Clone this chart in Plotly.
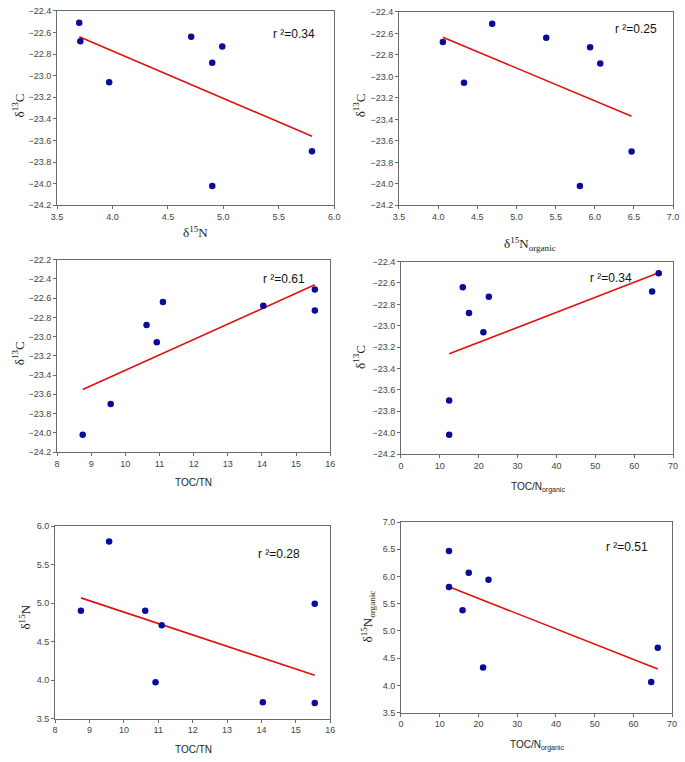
import numpy as np
import plotly.graph_objects as go

# ---- data (8 samples) ----
d13C = [-22.51, -22.68, -23.06, -22.64, -22.73, -22.88, -24.02, -23.70]
d15N = [3.70, 3.71, 3.97, 4.71, 4.99, 4.90, 4.90, 5.80]
d15N_org = [4.69, 4.06, 4.33, 5.38, 5.94, 6.07, 5.81, 6.47]
toc_tn = [15.55, 14.04, 10.92, 11.10, 15.55, 10.62, 8.75, 9.57]
toc_norg = [66.3, 64.6, 21.2, 15.9, 22.6, 17.5, 12.4, 12.4]
r2_labels = ["r \u00b2=0.34", "r \u00b2=0.25", "r \u00b2=0.61", "r \u00b2=0.34", "r \u00b2=0.28", "r \u00b2=0.51"]

W, H = 685, 762

dC = "\u03b4<sup>13</sup>C"
dN = "\u03b4<sup>15</sup>N"
dNo = "\u03b4<sup>15</sup>N<sub>organic</sub>"
panels = [
    (d15N, d13C, [3.5, 6.0], 0.5, ".1f", [-24.2, -22.4], 0.2, [52, 334, 6, 203],
     dN, (193, 230), dC, (12, 102), (0.855, 0.883), True),
    (d15N_org, d13C, [3.5, 7.0], 0.5, ".1f", [-24.2, -22.4], 0.2, [400, 679, 7, 203],
     dNo, (533, 242), dC, (359, 102), (0.864, 0.913), True),
    (toc_tn, d13C, [8, 16], 1, "d", [-24.2, -22.2], 0.2, [52, 330, 258, 453],
     "TOC/TN", (191, 484), dC, (13, 353), (0.831, 0.90), False),
    (toc_norg, d13C, [0, 70], 10, "d", [-24.2, -22.4], 0.2, [402, 679, 260, 455],
     "TOC/N<sub>organic</sub>", (541, 489), dC, (360, 357), (0.773, 0.913), False),
    (toc_tn, d15N, [8, 16], 1, "d", [3.5, 6.0], 0.5, [50, 330, 528, 723],
     "TOC/TN", (191, 754), dN, (19, 620), (0.814, 0.856), False),
    (toc_norg, d15N_org, [0, 70], 10, "d", [3.5, 7.0], 0.5, [402, 678, 524, 717],
     "TOC/N<sub>organic</sub>", (540, 750), dNo, (368, 620), (0.833, 0.87), False),
]

fig = go.Figure()
annotations = []
axcolor = "#6b6b6b"
tickfont = dict(family="Liberation Sans, Arial", size=9, color="#444")
serif = "Liberation Serif, Times New Roman"
sans = "Liberation Sans, Arial"

for i, (xs, ys, xr, xd, xf, yr, yd, box, xt, xtp, yt, ytp, r2p, xserif) in enumerate(panels):
    n = i + 1
    xa = "x" if n == 1 else f"x{n}"
    ya = "y" if n == 1 else f"y{n}"
    l, r, t, b = box
    xs_a = np.array(xs)
    ys_a = np.array(ys)
    slope, icpt = np.polyfit(xs_a, ys_a, 1)
    lx = np.array([xs_a.min(), xs_a.max()])
    fig.add_trace(go.Scatter(x=lx, y=slope * lx + icpt, mode="lines",
                             line=dict(color="#e01010", width=1.6),
                             xaxis=xa, yaxis=ya, showlegend=False, hoverinfo="skip"))
    fig.add_trace(go.Scatter(x=xs, y=ys, mode="markers",
                             marker=dict(color="#0a0a9c", size=6.5),
                             xaxis=xa, yaxis=ya, showlegend=False))
    common = dict(showline=True, mirror=True, linecolor=axcolor, linewidth=1,
                  ticks="outside", ticklen=3, tickcolor=axcolor, tickwidth=1,
                  showgrid=False, zeroline=False, tickfont=tickfont, fixedrange=True)
    xkey = "xaxis" if n == 1 else f"xaxis{n}"
    ykey = "yaxis" if n == 1 else f"yaxis{n}"
    fig.update_layout({
        xkey: dict(domain=[l / W, r / W], range=xr, dtick=xd, tick0=xr[0],
                   tickformat=xf if xf != "d" else None, anchor=ya, **common),
        ykey: dict(domain=[1 - b / H, 1 - t / H], range=yr, dtick=yd, tick0=yr[0],
                   tickformat=".1f", anchor=xa, **common),
    })
    annotations.append(dict(text=r2_labels[i], xref=f"{xa} domain", yref=f"{ya} domain",
                            x=r2p[0], y=r2p[1], showarrow=False,
                            font=dict(family=sans, size=12, color="#111"),
                            xanchor="center", yanchor="middle"))
    annotations.append(dict(text=xt, xref="paper", yref="paper",
                            x=xtp[0] / W, y=1 - xtp[1] / H, showarrow=False,
                            font=dict(family=serif if xserif else sans,
                                      size=13 if xserif else 10, color="#222"),
                            xanchor="center", yanchor="middle"))
    annotations.append(dict(text=yt, xref="paper", yref="paper",
                            x=ytp[0] / W, y=1 - ytp[1] / H, showarrow=False, textangle=-90,
                            font=dict(family=serif, size=13, color="#222"),
                            xanchor="center", yanchor="middle"))

fig.update_layout(width=W, height=H, margin=dict(l=0, r=0, t=0, b=0),
                  paper_bgcolor="white", plot_bgcolor="white",
                  annotations=annotations, showlegend=False)
fig.write_html("out.html", config={"displayModeBar": False},
               post_script="document.body.style.margin='0';document.body.style.padding='0';"
                           "document.body.style.overflow='hidden';")
